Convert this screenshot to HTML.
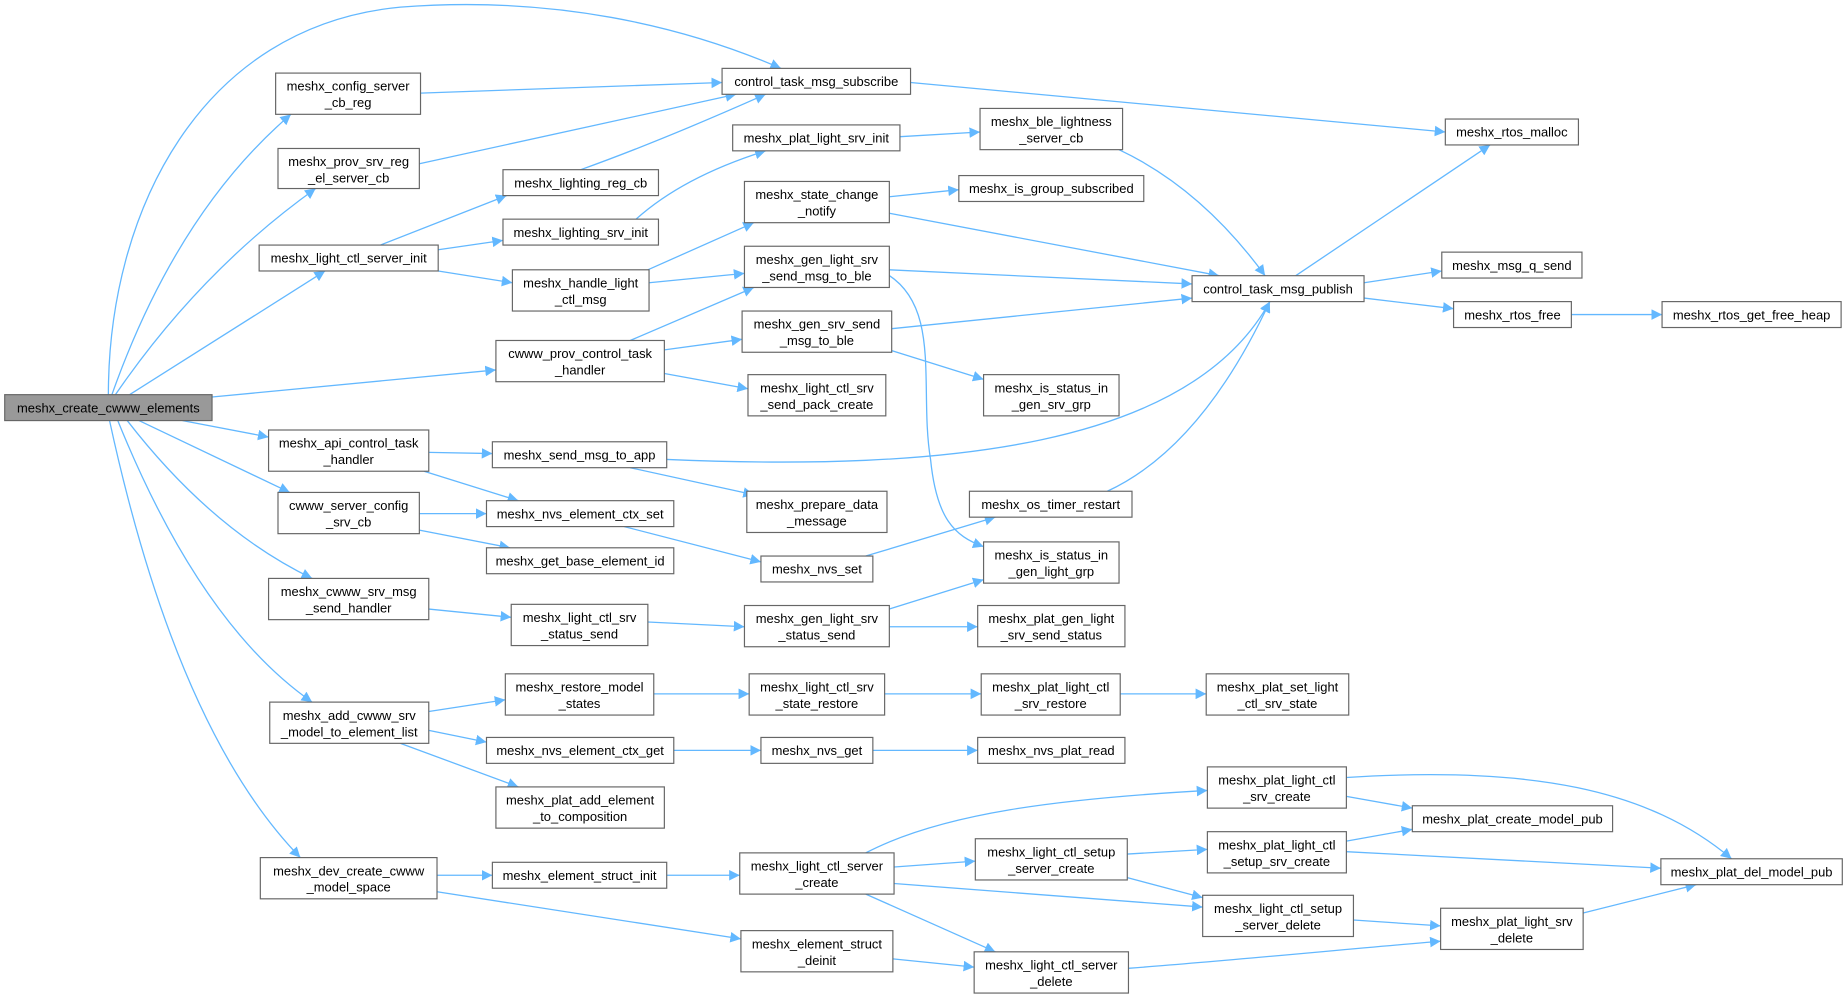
<!DOCTYPE html>
<html><head><meta charset="utf-8"><style>
html,body{margin:0;padding:0;background:#fff;}
svg{display:block;}
text{font-family:"Liberation Sans",Arial,sans-serif;font-size:11px;fill:#000;text-anchor:middle;}
.n{fill:#fff;stroke:#666;stroke-width:1;}
.e{fill:none;stroke:#63b8ff;stroke-width:1.1;marker-end:url(#a);}
</style></head><body>
<svg width="1847" height="999" viewBox="0 0 1568 848" xmlns="http://www.w3.org/2000/svg">
<defs><marker id="a" viewBox="0 0 10 10" refX="10" refY="5" markerWidth="9" markerHeight="9" markerUnits="userSpaceOnUse" orient="auto"><path d="M0,0L10,5L0,10z" fill="#63b8ff"/></marker></defs>
<g>
<path class="e" d="M95,335 Q150,180 247,97"/>
<path class="e" d="M98,335 Q170,230 268,160"/>
<path class="e" d="M110,335 L276,230"/>
<path class="e" d="M92,335 C92,180 170,22 340,6 C470,-4 580,22 663,58"/>
<path class="e" d="M180,337 L421,314"/>
<path class="e" d="M155,357 L228,371"/>
<path class="e" d="M118,357 L246,418"/>
<path class="e" d="M108,357 Q180,450 265,491"/>
<path class="e" d="M100,357 Q170,530 265,596"/>
<path class="e" d="M93,357 Q150,620 255,728"/>
<path class="e" d="M357,79 L613,70"/>
<path class="e" d="M356,139 L625,80"/>
<path class="e" d="M493,144 Q560,120 650,80"/>
<path class="e" d="M323,208 L430,166"/>
<path class="e" d="M372,212 L427,204"/>
<path class="e" d="M372,230 L435,240"/>
<path class="e" d="M540,186 Q580,150 650,128"/>
<path class="e" d="M550,229 L640,189"/>
<path class="e" d="M551,240 L632,232"/>
<path class="e" d="M535,289 L640,244"/>
<path class="e" d="M564,297 L630,288"/>
<path class="e" d="M564,317 L635,330"/>
<path class="e" d="M764,116 L832,112"/>
<path class="e" d="M950,127 Q1020,160 1074,234"/>
<path class="e" d="M755,167 L814,161"/>
<path class="e" d="M755,181 L1035,234"/>
<path class="e" d="M755,229 L1012,241"/>
<path class="e" d="M752,232 C800,260 780,330 790,390 C795,440 810,455 835,464"/>
<path class="e" d="M757,279 L1012,253"/>
<path class="e" d="M755,297 L835,322"/>
<path class="e" d="M1100,234 L1265,123"/>
<path class="e" d="M1158,240 L1224,230"/>
<path class="e" d="M1158,253 L1234,262"/>
<path class="e" d="M1334,267 L1411,267"/>
<path class="e" d="M364,384 L418,385"/>
<path class="e" d="M360,400 L440,425"/>
<path class="e" d="M566,390 C800,400 1010,380 1078,256"/>
<path class="e" d="M535,397 L640,420"/>
<path class="e" d="M356,436 L413,436"/>
<path class="e" d="M356,450 L433,465"/>
<path class="e" d="M530,447 L646,477"/>
<path class="e" d="M735,472 L845,439"/>
<path class="e" d="M940,417 Q1020,380 1078,256"/>
<path class="e" d="M364,517 L434,524"/>
<path class="e" d="M550,528 L632,532"/>
<path class="e" d="M755,517 L835,492"/>
<path class="e" d="M755,532 L830,532"/>
<path class="e" d="M364,604 L429,594"/>
<path class="e" d="M364,620 L413,630"/>
<path class="e" d="M340,631 L440,668"/>
<path class="e" d="M555,589 L636,589"/>
<path class="e" d="M751,589 L833,589"/>
<path class="e" d="M951,589 L1024,589"/>
<path class="e" d="M572,637 L646,637"/>
<path class="e" d="M741,637 L830,637"/>
<path class="e" d="M371,743 L418,743"/>
<path class="e" d="M371,757 L629,797"/>
<path class="e" d="M566,743 L628,743"/>
<path class="e" d="M735,724 C800,690 900,678 1025,671"/>
<path class="e" d="M759,736 L828,731"/>
<path class="e" d="M759,750 L1021,770"/>
<path class="e" d="M735,759 L845,808"/>
<path class="e" d="M758,814 L827,821"/>
<path class="e" d="M957,725 L1025,721"/>
<path class="e" d="M957,745 L1021,762"/>
<path class="e" d="M1143,676 L1199,686"/>
<path class="e" d="M1143,660 C1300,650 1400,670 1470,729"/>
<path class="e" d="M1143,714 L1199,704"/>
<path class="e" d="M1143,723 L1410,737"/>
<path class="e" d="M1149,781 L1223,786"/>
<path class="e" d="M958,822 C1050,815 1150,805 1223,799"/>
<path class="e" d="M1344,775 L1440,751"/>
<path class="e" d="M773,70 L1227,112"/>
</g>
<g>
<rect x="4" y="335" width="176" height="22" style="fill:#999;stroke:#666"/><text x="92" y="350">meshx_create_cwww_elements</text>
<rect class="n" x="234" y="62" width="123" height="35"/><text x="295.5" y="77">meshx_config_server</text><text x="295.5" y="91">_cb_reg</text>
<rect class="n" x="236" y="126" width="120" height="34"/><text x="296" y="141">meshx_prov_srv_reg</text><text x="296" y="155">_el_server_cb</text>
<rect class="n" x="220" y="208" width="152" height="22"/><text x="296" y="223">meshx_light_ctl_server_init</text>
<rect class="n" x="228" y="365" width="136" height="35"/><text x="296" y="380">meshx_api_control_task</text><text x="296" y="394">_handler</text>
<rect class="n" x="236" y="418" width="120" height="35"/><text x="296" y="433">cwww_server_config</text><text x="296" y="447">_srv_cb</text>
<rect class="n" x="228" y="491" width="136" height="35"/><text x="296" y="506">meshx_cwww_srv_msg</text><text x="296" y="520">_send_handler</text>
<rect class="n" x="229" y="596" width="135" height="35"/><text x="296.5" y="611">meshx_add_cwww_srv</text><text x="296.5" y="625">_model_to_element_list</text>
<rect class="n" x="221" y="728" width="150" height="35"/><text x="296" y="743">meshx_dev_create_cwww</text><text x="296" y="757">_model_space</text>
<rect class="n" x="613" y="58" width="160" height="22"/><text x="693" y="73">control_task_msg_subscribe</text>
<rect class="n" x="427" y="144" width="132" height="22"/><text x="493" y="159">meshx_lighting_reg_cb</text>
<rect class="n" x="427" y="186" width="132" height="22"/><text x="493" y="201">meshx_lighting_srv_init</text>
<rect class="n" x="435" y="229" width="116" height="35"/><text x="493" y="244">meshx_handle_light</text><text x="493" y="258">_ctl_msg</text>
<rect class="n" x="421" y="289" width="143" height="35"/><text x="492.5" y="304">cwww_prov_control_task</text><text x="492.5" y="318">_handler</text>
<rect class="n" x="418" y="375" width="148" height="22"/><text x="492" y="390">meshx_send_msg_to_app</text>
<rect class="n" x="413" y="425" width="159" height="22"/><text x="492.5" y="440">meshx_nvs_element_ctx_set</text>
<rect class="n" x="413" y="465" width="159" height="22"/><text x="492.5" y="480">meshx_get_base_element_id</text>
<rect class="n" x="434" y="513" width="116" height="35"/><text x="492" y="528">meshx_light_ctl_srv</text><text x="492" y="542">_status_send</text>
<rect class="n" x="429" y="572" width="126" height="35"/><text x="492" y="587">meshx_restore_model</text><text x="492" y="601">_states</text>
<rect class="n" x="413" y="626" width="159" height="22"/><text x="492.5" y="641">meshx_nvs_element_ctx_get</text>
<rect class="n" x="421" y="668" width="143" height="35"/><text x="492.5" y="683">meshx_plat_add_element</text><text x="492.5" y="697">_to_composition</text>
<rect class="n" x="418" y="732" width="148" height="22"/><text x="492" y="747">meshx_element_struct_init</text>
<rect class="n" x="622" y="106" width="142" height="22"/><text x="693" y="121">meshx_plat_light_srv_init</text>
<rect class="n" x="632" y="154" width="123" height="35"/><text x="693.5" y="169">meshx_state_change</text><text x="693.5" y="183">_notify</text>
<rect class="n" x="632" y="209" width="123" height="35"/><text x="693.5" y="224">meshx_gen_light_srv</text><text x="693.5" y="238">_send_msg_to_ble</text>
<rect class="n" x="630" y="264" width="127" height="35"/><text x="693.5" y="279">meshx_gen_srv_send</text><text x="693.5" y="293">_msg_to_ble</text>
<rect class="n" x="635" y="318" width="117" height="35"/><text x="693.5" y="333">meshx_light_ctl_srv</text><text x="693.5" y="347">_send_pack_create</text>
<rect class="n" x="634" y="417" width="119" height="35"/><text x="693.5" y="432">meshx_prepare_data</text><text x="693.5" y="446">_message</text>
<rect class="n" x="646" y="472" width="95" height="22"/><text x="693.5" y="487">meshx_nvs_set</text>
<rect class="n" x="632" y="514" width="123" height="35"/><text x="693.5" y="529">meshx_gen_light_srv</text><text x="693.5" y="543">_status_send</text>
<rect class="n" x="636" y="572" width="115" height="35"/><text x="693.5" y="587">meshx_light_ctl_srv</text><text x="693.5" y="601">_state_restore</text>
<rect class="n" x="646" y="626" width="95" height="22"/><text x="693.5" y="641">meshx_nvs_get</text>
<rect class="n" x="628" y="724" width="131" height="35"/><text x="693.5" y="739">meshx_light_ctl_server</text><text x="693.5" y="753">_create</text>
<rect class="n" x="629" y="790" width="129" height="35"/><text x="693.5" y="805">meshx_element_struct</text><text x="693.5" y="819">_deinit</text>
<rect class="n" x="832" y="92" width="121" height="35"/><text x="892.5" y="107">meshx_ble_lightness</text><text x="892.5" y="121">_server_cb</text>
<rect class="n" x="814" y="149" width="157" height="22"/><text x="892.5" y="164">meshx_is_group_subscribed</text>
<rect class="n" x="835" y="318" width="115" height="35"/><text x="892.5" y="333">meshx_is_status_in</text><text x="892.5" y="347">_gen_srv_grp</text>
<rect class="n" x="823" y="417" width="138" height="22"/><text x="892" y="432">meshx_os_timer_restart</text>
<rect class="n" x="835" y="460" width="115" height="35"/><text x="892.5" y="475">meshx_is_status_in</text><text x="892.5" y="489">_gen_light_grp</text>
<rect class="n" x="830" y="514" width="125" height="35"/><text x="892.5" y="529">meshx_plat_gen_light</text><text x="892.5" y="543">_srv_send_status</text>
<rect class="n" x="833" y="572" width="118" height="35"/><text x="892" y="587">meshx_plat_light_ctl</text><text x="892" y="601">_srv_restore</text>
<rect class="n" x="830" y="626" width="125" height="22"/><text x="892.5" y="641">meshx_nvs_plat_read</text>
<rect class="n" x="828" y="712" width="129" height="35"/><text x="892.5" y="727">meshx_light_ctl_setup</text><text x="892.5" y="741">_server_create</text>
<rect class="n" x="827" y="808" width="131" height="35"/><text x="892.5" y="823">meshx_light_ctl_server</text><text x="892.5" y="837">_delete</text>
<rect class="n" x="1012" y="234" width="146" height="22"/><text x="1085" y="249">control_task_msg_publish</text>
<rect class="n" x="1227" y="101" width="113" height="22"/><text x="1283.5" y="116">meshx_rtos_malloc</text>
<rect class="n" x="1224" y="214" width="119" height="22"/><text x="1283.5" y="229">meshx_msg_q_send</text>
<rect class="n" x="1234" y="256" width="100" height="22"/><text x="1284" y="271">meshx_rtos_free</text>
<rect class="n" x="1411" y="256" width="152" height="22"/><text x="1487" y="271">meshx_rtos_get_free_heap</text>
<rect class="n" x="1024" y="572" width="121" height="35"/><text x="1084.5" y="587">meshx_plat_set_light</text><text x="1084.5" y="601">_ctl_srv_state</text>
<rect class="n" x="1025" y="651" width="118" height="35"/><text x="1084" y="666">meshx_plat_light_ctl</text><text x="1084" y="680">_srv_create</text>
<rect class="n" x="1025" y="706" width="118" height="35"/><text x="1084" y="721">meshx_plat_light_ctl</text><text x="1084" y="735">_setup_srv_create</text>
<rect class="n" x="1021" y="760" width="128" height="35"/><text x="1085" y="775">meshx_light_ctl_setup</text><text x="1085" y="789">_server_delete</text>
<rect class="n" x="1199" y="684" width="170" height="22"/><text x="1284" y="699">meshx_plat_create_model_pub</text>
<rect class="n" x="1410" y="729" width="154" height="22"/><text x="1487" y="744">meshx_plat_del_model_pub</text>
<rect class="n" x="1223" y="771" width="121" height="35"/><text x="1283.5" y="786">meshx_plat_light_srv</text><text x="1283.5" y="800">_delete</text>
</g>
</svg>
</body></html>
